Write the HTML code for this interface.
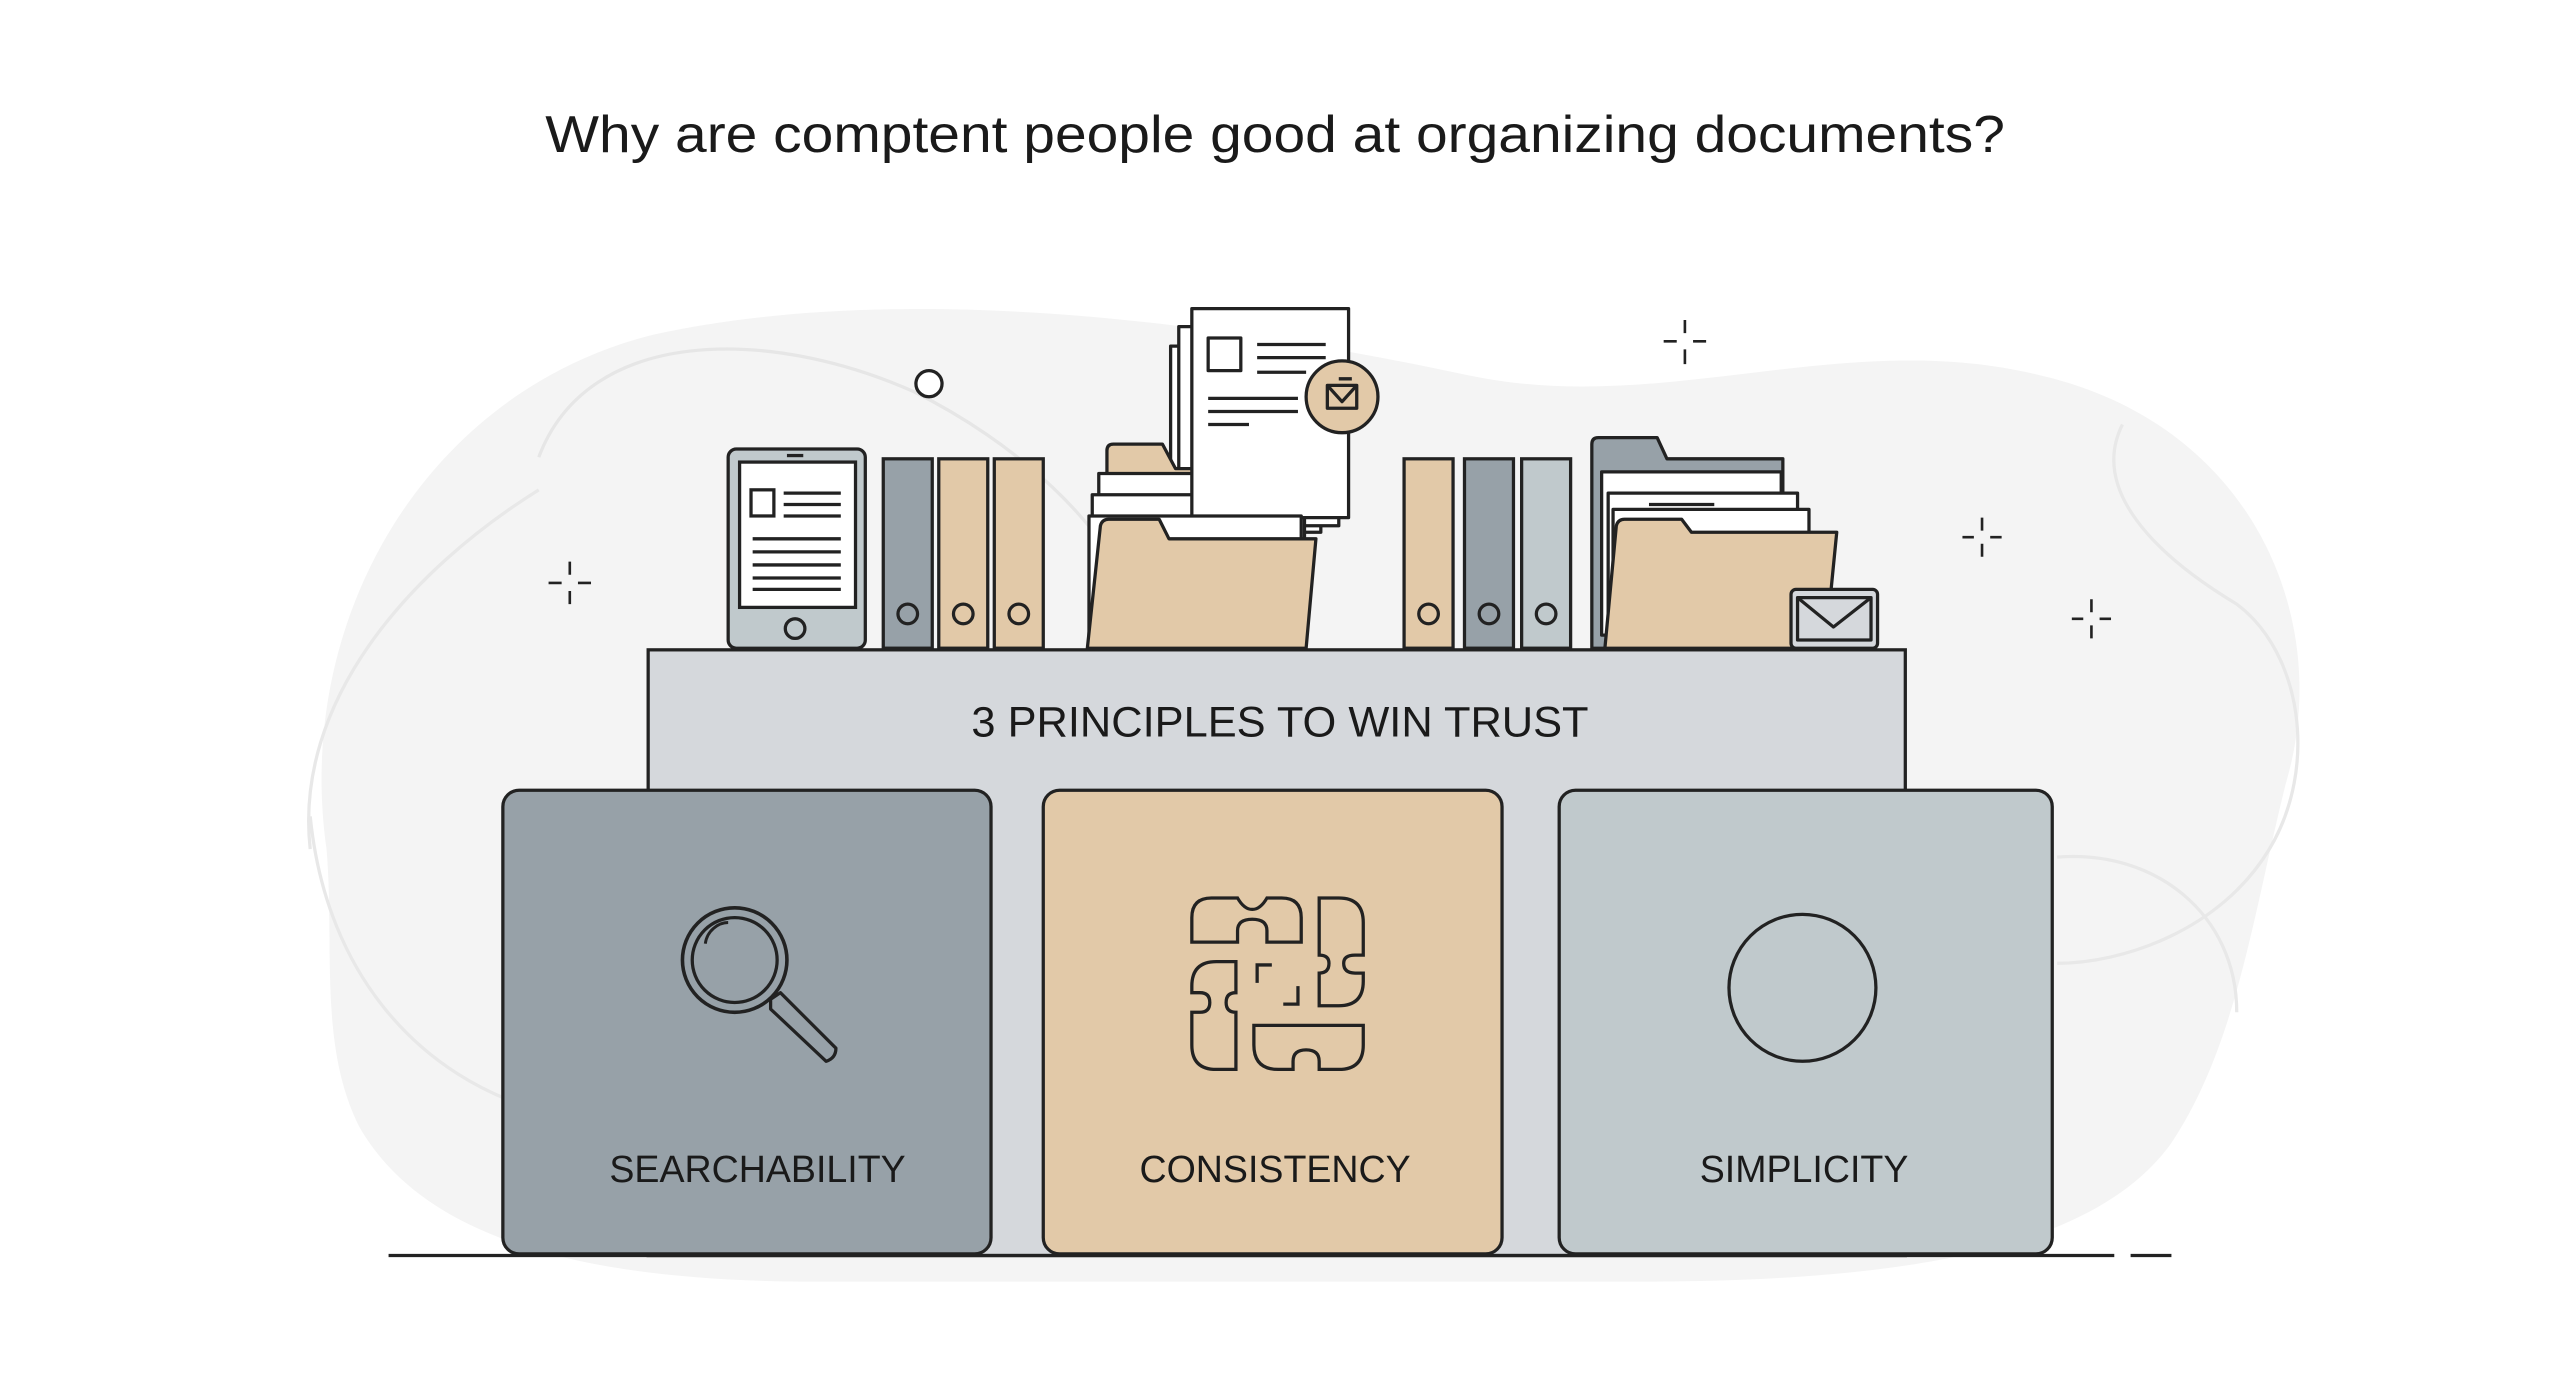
<!DOCTYPE html>
<html><head><meta charset="utf-8"><style>
html,body{margin:0;padding:0;background:#fff;}
svg{display:block;}
text{font-family:"Liberation Sans",sans-serif;fill:#1a1a1a;}
</style></head><body>
<svg width="2560" height="1396" viewBox="0 0 1568 855" xmlns="http://www.w3.org/2000/svg">
<rect width="1568" height="855" fill="#fff"/>
<!-- background blob -->
<path d="M200 520 C180 380 260 240 400 205 C560 170 760 200 900 230 C1020 255 1130 200 1250 230 C1380 260 1430 380 1400 480 C1380 560 1370 640 1330 700 C1280 770 1150 785 1000 785 L500 785 C360 785 260 760 220 690 C195 640 205 580 200 520 Z" fill="#f4f4f4"/>
<path d="M330 280 C360 200 470 200 560 240 C620 270 680 320 700 380" fill="none" stroke="#e6e6e6" stroke-width="2"/>
<path d="M190 520 C180 430 250 350 330 300" fill="none" stroke="#e8e8e8" stroke-width="2"/>
<path d="M190 500 C200 600 260 660 330 680" fill="none" stroke="#e8e8e8" stroke-width="2"/>
<path d="M1300 260 C1280 300 1320 340 1370 370 C1410 400 1420 470 1390 520 C1360 570 1300 590 1260 590" fill="none" stroke="#e8e8e8" stroke-width="2"/>
<path d="M1260 525 C1320 520 1370 560 1370 620" fill="none" stroke="#e8e8e8" stroke-width="2"/>

<text x="334" y="93" font-size="32" textLength="894" lengthAdjust="spacingAndGlyphs">Why are comptent people good at organizing documents?</text>

<!-- sparkles -->
<g stroke="#222" stroke-width="1.6">
<path d="M349 344v8M349 362v8M336 357h8M354 357h8"/>
<path d="M1032 196v8M1032 214v9M1019 209h8M1037 209h8"/>
<path d="M1214 317v8M1214 333v8M1202 329h7M1219 329h7"/>
<path d="M1281 367v8M1281 383v8M1269 379h7M1286 379h7"/>
</g>
<circle cx="569" cy="235" r="8" fill="#fff" stroke="#222" stroke-width="2"/>

<!-- platform -->
<rect x="397" y="398" width="770" height="371" fill="#d5d8dc" stroke="#222" stroke-width="2"/>
<text x="595" y="451" font-size="26" textLength="378" lengthAdjust="spacingAndGlyphs">3 PRINCIPLES TO WIN TRUST</text>

<!-- cards -->
<rect x="308" y="484" width="299" height="284" rx="10" fill="#97a1a8" stroke="#222" stroke-width="2"/>
<rect x="639" y="484" width="281" height="284" rx="10" fill="#e2c9a8" stroke="#222" stroke-width="2"/>
<rect x="955" y="484" width="302" height="284" rx="10" fill="#c0c9cc" stroke="#222" stroke-width="2"/>
<text x="464" y="724" font-size="23" text-anchor="middle">SEARCHABILITY</text>
<text x="781" y="724" font-size="23" text-anchor="middle">CONSISTENCY</text>
<text x="1105" y="724" font-size="23" text-anchor="middle">SIMPLICITY</text>

<!-- magnifier -->
<circle cx="450" cy="588" r="32" fill="none" stroke="#222" stroke-width="2.2"/>
<circle cx="450" cy="588" r="26" fill="none" stroke="#222" stroke-width="2"/>
<path d="M432 578 C433 570 440 565 446 565" fill="none" stroke="#222" stroke-width="1.8"/>
<path d="M472 612 L478 608 L512 642 Q512 648 506 650 L472 618 Z" fill="none" stroke="#222" stroke-width="2" stroke-linejoin="round"/>
<!-- puzzle -->
<g fill="none" stroke="#222" stroke-width="2">
<path d="M730 577 V562 Q730 550 742 550 H758 Q762 557 767 557 Q772 557 776 550 H785 Q797 550 797 562 V577 H776 V570 Q776 563 767 563 Q758 563 758 570 V577 Z"/>
<path d="M808 550 H820 Q835 550 835 565 V585 H830 Q823 585 823 590 Q823 596 830 596 H835 V601 Q835 616 820 616 H808 V596 Q814 596 814 590 Q814 585 808 585 Z"/>
<path d="M757 589 H745 Q730 589 730 604 V608 H735 Q741 608 741 614 Q741 620 735 620 H730 V640 Q730 655 745 655 H757 V620 Q751 620 751 614 Q751 608 757 608 Z"/>
<path d="M768 628 H835 V640 Q835 655 820 655 H808 V650 Q808 643 800 643 Q792 643 792 650 V655 H783 Q768 655 768 640 Z"/>
<path d="M770 602 V591 H779"/>
<path d="M795 604 V615 H786"/>
</g>
<!-- simplicity circle -->
<circle cx="1104" cy="605" r="45" fill="none" stroke="#222" stroke-width="2"/>

<!-- ground -->
<path d="M238 769 H1295 M1305 769 H1330" stroke="#222" stroke-width="2"/>

<!-- tablet -->
<rect x="446" y="275" width="84" height="122" rx="5" fill="#c0c9cc" stroke="#222" stroke-width="2"/>
<rect x="453" y="283" width="71" height="89" fill="#fff" stroke="#222" stroke-width="2"/>
<rect x="482" y="278" width="10" height="2" fill="#222"/>
<circle cx="487" cy="385" r="6" fill="none" stroke="#222" stroke-width="2"/>
<rect x="460" y="300" width="14" height="16" fill="none" stroke="#222" stroke-width="2"/>
<g stroke="#222" stroke-width="2"><path d="M480 302h35M480 309h35M480 316h35M461 330h54M461 338h54M461 346h54M461 354h54M461 361h54"/></g>

<!-- left binders -->
<g stroke="#222" stroke-width="2">
<rect x="541" y="281" width="30" height="116" fill="#97a1a8"/>
<rect x="575" y="281" width="30" height="116" fill="#e2c9a8"/>
<rect x="609" y="281" width="30" height="116" fill="#e2c9a8"/>
<circle cx="556" cy="376" r="6" fill="none"/><circle cx="590" cy="376" r="6" fill="none"/><circle cx="624" cy="376" r="6" fill="none"/>
</g>

<!-- middle folder group -->
<g stroke="#222" stroke-width="2" stroke-linejoin="round">
<rect x="717" y="212" width="92" height="114" fill="#fff"/>
<rect x="722" y="200" width="98" height="122" fill="#fff"/>
<path d="M678 397 V276 Q678 272 682 272 H712 L720 287 H795 V397 Z" fill="#e2c9a8"/>
<rect x="673" y="290" width="125" height="100" fill="#fff"/>
<rect x="669" y="303" width="130" height="90" fill="#fff"/>
<rect x="730" y="189" width="96" height="128" fill="#fff"/>
<rect x="667" y="316" width="130" height="80" fill="#fff"/>
<path d="M666 397 L674 322 Q675 318 679 318 H710 L716 330 H806 L800 397 Z" fill="#e2c9a8"/>
<rect x="740" y="207" width="20" height="20" fill="none"/>
<path d="M770 211h42M770 219h42M770 228h30M740 244h55M740 252h55M740 260h25" fill="none"/>
<circle cx="822" cy="243" r="22" fill="#e2c9a8"/>
<rect x="813" y="236" width="18" height="14" fill="none"/>
<path d="M813 236 L822 246 L831 236 M820 232h8" fill="none"/>
</g>

<!-- right binders -->
<g stroke="#222" stroke-width="2">
<rect x="860" y="281" width="30" height="116" fill="#e2c9a8"/>
<rect x="897" y="281" width="30" height="116" fill="#97a1a8"/>
<rect x="932" y="281" width="30" height="116" fill="#c0c9cc"/>
<circle cx="875" cy="376" r="6" fill="none"/><circle cx="912" cy="376" r="6" fill="none"/><circle cx="947" cy="376" r="6" fill="none"/>
</g>

<!-- right folder -->
<g stroke="#222" stroke-width="2" stroke-linejoin="round">
<path d="M975 397 V272 Q975 268 979 268 H1015 L1021 281 H1092 V397 Z" fill="#97a1a8"/>
<rect x="981" y="289" width="110" height="100" fill="#fff"/>
<rect x="985" y="302" width="116" height="92" fill="#fff"/>
<rect x="988" y="312" width="120" height="84" fill="#fff"/>
<path d="M1010 309h40" fill="none"/>
<path d="M983 397 L990 322 Q991 318 995 318 H1030 L1036 326 H1125 L1118 397 Z" fill="#e2c9a8"/>
<rect x="1097" y="361" width="53" height="36" rx="3" fill="#d5d8dc"/>
<rect x="1101" y="366" width="45" height="26" fill="none"/>
<path d="M1101 366 L1123 384 L1146 366" fill="none"/>
</g>
</svg>
</body></html>
